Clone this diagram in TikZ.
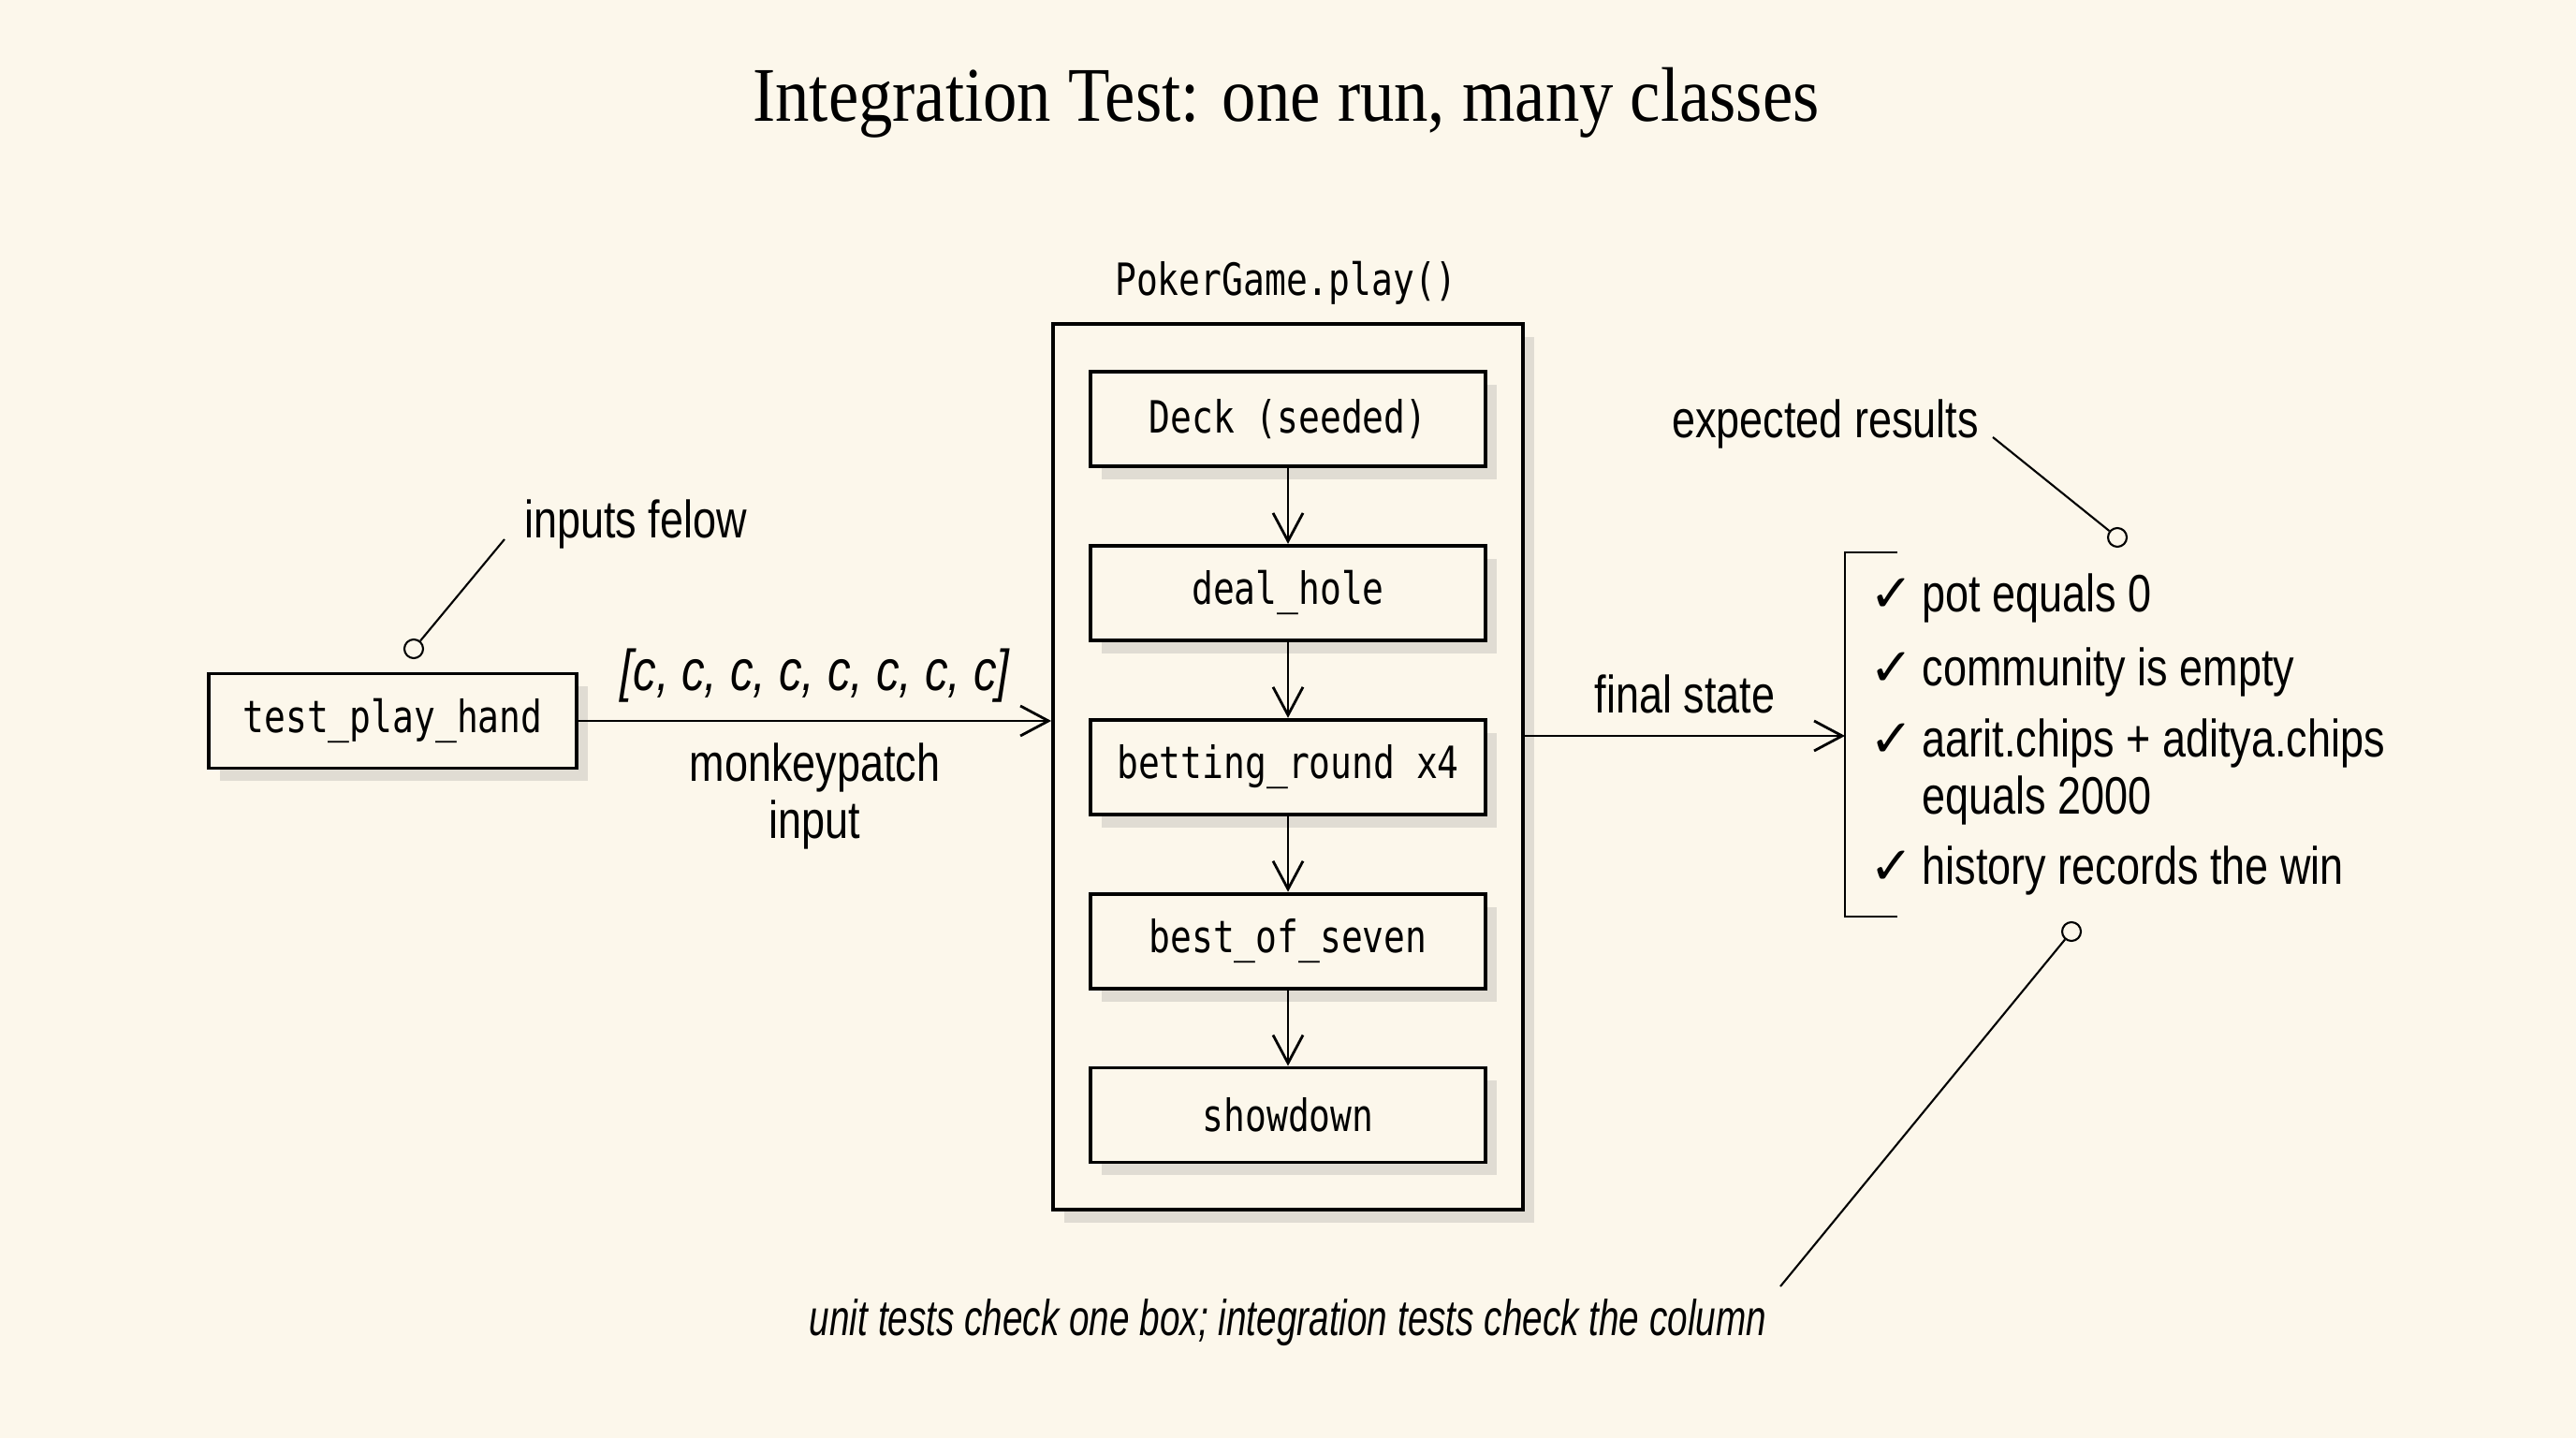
\documentclass[tikz,border=0pt]{standalone}
\usepackage{fontspec}
\setmainfont{Liberation Serif}[FakeStretch=0.88]
\setsansfont{Liberation Sans}[FakeStretch=0.8]
\newfontfamily\codefont{DejaVu Sans Mono}[FakeStretch=0.8]
\newfontfamily\notefont{Liberation Sans}[FakeStretch=0.72]
\newfontfamily\symfont{DejaVu Sans}
\usepackage{tikz}
\usetikzlibrary{positioning}
\usetikzlibrary{arrows.meta}
\usetikzlibrary{shadows}
\usepackage{xcolor}
\definecolor{paper}{RGB}{252,247,235}
\newcommand{\chkmark}{{\symfont ✓}}

\begin{document}
\begin{tikzpicture}[
    codebox/.style={draw, line width=1.1pt, fill=paper, minimum width=4.22cm, minimum height=1.01cm,
        font=\codefont\fontsize{13.5}{16}\selectfont,
        drop shadow={shadow xshift=0.12cm, shadow yshift=-0.14cm, opacity=0.22, fill=black!50}},
    flow/.style={-{Straight Barb[length=3mm,width=3.2mm]}, line width=0.8pt},
    leader/.style={line width=0.6pt},
    tipring/.style={circle, draw, line width=0.6pt, fill=paper, inner sep=0pt, minimum size=0.2cm},
    remark/.style={font=\sffamily\fontsize{16}{17.5}\selectfont}
]
    % Paper
    \fill[paper] (0,0) rectangle (27.52,15.36);

    % Title
    \node[font=\rmfamily\fontsize{23.5}{28}\selectfont] (title) at (13.74,14.26) {Integration Test: one run, many classes};

    % Game column
    \node[draw, line width=1.1pt, fill=paper, minimum width=5.02cm, minimum height=9.46cm,
        drop shadow={shadow xshift=0.12cm, shadow yshift=-0.14cm, opacity=0.22, fill=black!50}] (game) at (13.76,7.17) {};
    \node[font=\codefont\fontsize{13.5}{16}\selectfont] (gamename) at (13.74,12.34) {PokerGame.play()};

    \node[codebox] (deck) at (13.76,10.885) {Deck (seeded)};
    \node[codebox, below=0.81cm of deck] (deal) {deal\_hole};
    \node[codebox, below=0.81cm of deal] (bet) {betting\_round x4};
    \node[codebox, below=0.81cm of bet] (best) {best\_of\_seven};
    \node[codebox, below=0.81cm of best] (show) {showdown};
    \foreach \a/\b in {deck/deal, deal/bet, bet/best, best/show}
        \draw[flow] (\a) -- (\b);

    % Test input
    \node[codebox, minimum width=3.93cm] (test) at (4.195,7.66) {test\_play\_hand};
    \draw[flow] (test.east) -- (test.east -| game.west)
        node[midway, above=2pt, font=\sffamily\itshape\fontsize{17.5}{19}\selectfont] (cards) {[c, c, c, c, c, c, c, c]}
        node[midway, below=3pt, remark, align=center] (patch) {monkeypatch\\input};

    \node[tipring] (ringA) at (4.42,8.43) {};
    \coordinate (feedend) at (5.39,9.60);
    \draw[leader] (ringA) -- (feedend);
    \node[remark, anchor=west] (feed) at (5.48,9.76) {inputs felow};

    % Final state
    \coordinate (bmid) at (19.71,7.50);
    \coordinate (btop) at (20.27,9.46);
    \coordinate (bbot) at (20.27,5.57);
    \draw[flow] (bmid -| game.east) -- (bmid) node[midway, above=3pt, remark] (final) {final state};
    \draw[line width=0.8pt] (btop) -- (btop -| bmid) -- (bbot -| bmid) -- (bbot);

    % Checks
    \node[remark, anchor=west] (chk1) at (19.85,8.97) {\chkmark\,pot equals 0};
    \node[remark, anchor=west] (chk2) at (19.85,8.18) {\chkmark\,community is empty};
    \node[remark, anchor=west, align=left] (chk3) at (19.85,7.115) {\chkmark\,aarit.chips + aditya.chips\\\hphantom{\chkmark\,}equals 2000};
    \node[remark, anchor=west] (chk4) at (19.85,6.06) {\chkmark\,history records the win};

    \node[remark] (expect) at (19.50,10.83) {expected results};
    \node[tipring] (ringB) at (22.62,9.62) {};
    \coordinate (expend) at (21.29,10.69);
    \draw[leader] (expend) -- (ringB);

    % Note
    \node[tipring] (ringC) at (22.13,5.41) {};
    \coordinate (noteend) at (19.02,1.62);
    \draw[leader] (ringC) -- (noteend);
    \node[font=\notefont\itshape\fontsize{15.3}{17}\selectfont] (note) at (13.76,1.23) {unit tests check one box; integration tests check the column};
\end{tikzpicture}
\end{document}
